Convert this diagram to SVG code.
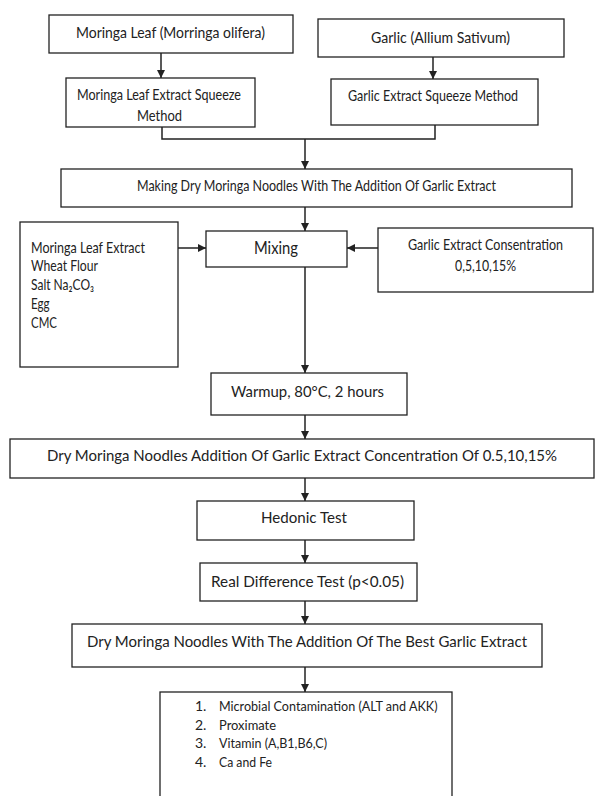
<svg xmlns="http://www.w3.org/2000/svg" width="595" height="796" viewBox="0 0 595 796">
<style>
  .box { fill: #ffffff; stroke: #222222; stroke-width: 1.3; }
  .t { font-family: Lato, "Open Sans", "Liberation Sans", sans-serif; font-size: 15px; fill: #222222; }
  .big { font-size: 17px; }
  .mid { font-size: 16px; }
  .sm { font-size: 14px; }
  .c { fill: none; stroke: #222222; stroke-width: 1.5; }
  .ca { fill: none; stroke: #222222; stroke-width: 1.5; marker-end: url(#ah); }
</style>
<defs>
  <marker id="ah" markerUnits="userSpaceOnUse" markerWidth="8" markerHeight="8" refX="8" refY="4" orient="auto">
    <path d="M0,0 L8,4 L0,8 Z" fill="#222222"/>
  </marker>
</defs>
<rect width="595" height="796" fill="#ffffff"/>

<g id="connectors">
  <line class="ca" x1="161" y1="53" x2="161" y2="78"/>
  <line class="ca" x1="433" y1="57" x2="433" y2="79"/>
  <polyline class="c" points="162,127 162,139 435,139 435,125"/>
  <line class="ca" x1="305" y1="139" x2="305" y2="169"/>
  <line class="ca" x1="305" y1="207" x2="305" y2="231"/>
  <line class="ca" x1="178" y1="248" x2="206" y2="248"/>
  <line class="ca" x1="378" y1="248" x2="347" y2="248"/>
  <line class="ca" x1="305" y1="267" x2="305" y2="373"/>
  <line class="ca" x1="305" y1="415" x2="305" y2="439"/>
  <line class="ca" x1="305" y1="478" x2="305" y2="501"/>
  <line class="ca" x1="305" y1="540" x2="305" y2="563"/>
  <line class="ca" x1="305" y1="601" x2="305" y2="624"/>
  <line class="ca" x1="305" y1="667" x2="305" y2="692"/>
</g>

<g id="moringa-leaf">
  <rect class="box" x="49" y="15" width="244" height="38"/>
  <text class="t" x="76" y="38" textLength="189" lengthAdjust="spacingAndGlyphs">Moringa Leaf (Morringa olifera)</text>
</g>

<g id="garlic">
  <rect class="box" x="318" y="19" width="246" height="38"/>
  <text class="t" x="371" y="43" textLength="139" lengthAdjust="spacingAndGlyphs">Garlic (Allium Sativum)</text>
</g>

<g id="moringa-squeeze">
  <rect class="box" x="66" y="78" width="189" height="49"/>
  <text class="t" x="77" y="100" textLength="164" lengthAdjust="spacingAndGlyphs">Moringa Leaf Extract Squeeze</text>
  <text class="t" x="137" y="120.5" textLength="45" lengthAdjust="spacingAndGlyphs">Method</text>
</g>

<g id="garlic-squeeze">
  <rect class="box" x="331" y="79" width="207" height="46"/>
  <text class="t" x="348" y="101" textLength="170" lengthAdjust="spacingAndGlyphs">Garlic Extract Squeeze Method</text>
</g>

<g id="making">
  <rect class="box" x="61" y="169" width="511" height="38"/>
  <text class="t" x="137" y="190.5" textLength="359" lengthAdjust="spacingAndGlyphs">Making Dry Moringa Noodles With The Addition Of Garlic Extract</text>
</g>

<g id="ingredients">
  <rect class="box" x="20" y="222" width="158" height="145"/>
  <text class="t" x="31" y="252.5" textLength="114" lengthAdjust="spacingAndGlyphs">Moringa Leaf Extract</text>
  <text class="t" x="31" y="271.3" textLength="67" lengthAdjust="spacingAndGlyphs">Wheat Flour</text>
  <text class="t" x="31" y="290" textLength="63" lengthAdjust="spacingAndGlyphs">Salt Na₂CO₃</text>
  <text class="t" x="31" y="308.8" textLength="18.5" lengthAdjust="spacingAndGlyphs">Egg</text>
  <text class="t" x="31" y="327.6" textLength="26" lengthAdjust="spacingAndGlyphs">CMC</text>
</g>

<g id="mixing">
  <rect class="box" x="206" y="231" width="141" height="36"/>
  <text class="t big" x="254" y="254" textLength="44" lengthAdjust="spacingAndGlyphs">Mixing</text>
</g>

<g id="garlic-concentration">
  <rect class="box" x="378" y="228" width="215" height="64"/>
  <text class="t" x="408" y="250" textLength="155" lengthAdjust="spacingAndGlyphs">Garlic Extract Consentration</text>
  <text class="t" x="455" y="271" textLength="61" lengthAdjust="spacingAndGlyphs">0,5,10,15%</text>
</g>

<g id="warmup">
  <rect class="box" x="211" y="373" width="196" height="42"/>
  <text class="t mid" x="231" y="396.5" textLength="153" lengthAdjust="spacingAndGlyphs">Warmup, 80°C, 2 hours</text>
</g>

<g id="dry-concentration">
  <rect class="box" x="10" y="439" width="584" height="39"/>
  <text class="t mid" x="47" y="461" textLength="510" lengthAdjust="spacingAndGlyphs">Dry Moringa Noodles Addition Of Garlic Extract Concentration Of 0.5,10,15%</text>
</g>

<g id="hedonic">
  <rect class="box" x="197" y="501" width="217" height="39"/>
  <text class="t mid" x="261" y="523" textLength="86" lengthAdjust="spacingAndGlyphs">Hedonic Test</text>
</g>

<g id="real-difference">
  <rect class="box" x="200" y="563" width="217" height="38"/>
  <text class="t mid" x="211" y="587" textLength="193" lengthAdjust="spacingAndGlyphs">Real Difference Test (p&lt;0.05)</text>
</g>

<g id="dry-best">
  <rect class="box" x="72" y="624" width="470" height="43"/>
  <text class="t mid" x="87" y="647" textLength="440" lengthAdjust="spacingAndGlyphs">Dry Moringa Noodles With The Addition Of The Best Garlic Extract</text>
</g>

<g id="analysis">
  <rect class="box" x="160" y="692" width="292" height="120"/>
  <text class="t sm" x="195" y="711">1.</text>
  <text class="t sm" x="219" y="711" textLength="218.5" lengthAdjust="spacingAndGlyphs">Microbial Contamination (ALT and AKK)</text>
  <text class="t sm" x="195" y="729.5">2.</text>
  <text class="t sm" x="219" y="729.5" textLength="57" lengthAdjust="spacingAndGlyphs">Proximate</text>
  <text class="t sm" x="195" y="748">3.</text>
  <text class="t sm" x="219" y="748" textLength="108" lengthAdjust="spacingAndGlyphs">Vitamin (A,B1,B6,C)</text>
  <text class="t sm" x="195" y="767">4.</text>
  <text class="t sm" x="219" y="767" textLength="53" lengthAdjust="spacingAndGlyphs">Ca and Fe</text>
</g>
</svg>
